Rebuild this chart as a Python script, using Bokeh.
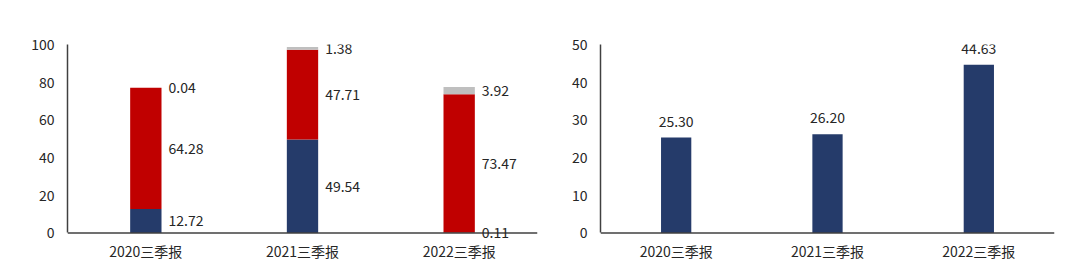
from bokeh.plotting import figure
from bokeh.layouts import row
from bokeh.models import ColumnDataSource, Range1d, FactorRange, LabelSet, Span
from bokeh.transform import dodge
from bokeh.embed import file_html
from bokeh.resources import INLINE
from bokeh.core.properties import value

categories = ["2020三季报", "2021三季报", "2022三季报"]
blue_vals = [12.72, 49.54, 0.11]
red_vals = [64.28, 47.71, 73.47]
gray_vals = [0.04, 1.38, 3.92]
right_vals = [25.30, 26.20, 44.63]
left_ticks = [0, 20, 40, 60, 80, 100]
right_ticks = [0, 10, 20, 30, 40, 50]

BLUE = "#253B6A"
RED = "#C00000"
GRAY = "#BFBFBF"
TXT = "#262626"
AX = "#404040"
FONT = "Noto Sans CJK SC"
FS = "14px"


def style(p, ticks, top):
    p.xgrid.visible = False
    p.ygrid.visible = False
    p.outline_line_color = None
    p.background_fill_color = "white"
    p.border_fill_color = "white"
    for ax in (p.xaxis, p.yaxis):
        ax.axis_line_color = AX
        ax.axis_line_width = 1.5
        ax.major_tick_line_color = None
        ax.minor_tick_line_color = None
        ax.major_tick_out = 0
        ax.major_tick_in = 0
        ax.minor_tick_out = 0
        ax.minor_tick_in = 0
        ax.major_label_text_font = FONT
        ax.major_label_text_font_size = FS
        ax.major_label_text_color = TXT
    p.yaxis.ticker = ticks
    p.yaxis.bounds = (0, top)
    p.yaxis.major_label_standoff = 13
    # x axis line drawn at value 0 (range extends slightly below 0 so labels at 0 are not clipped)
    p.xaxis.axis_line_color = None
    p.xaxis.major_label_standoff = 0
    p.add_layout(Span(location=0, dimension="width", line_color=AX, line_width=1.5))


# Left stacked chart
src = ColumnDataSource(dict(cat=categories, blue=blue_vals, red=red_vals, gray=gray_vals))
p1 = figure(x_range=FactorRange(*categories, range_padding=0), y_range=Range1d(-4, 100),
            width=540, height=271, output_backend="svg", toolbar_location=None,
            min_border_left=67, min_border_right=3, min_border_top=44, min_border_bottom=31)
p1.vbar_stack(["blue", "red", "gray"], x="cat", width=0.2, color=[BLUE, RED, GRAY],
              source=src, line_color=None)
style(p1, left_ticks, 100)

lab_y = []
lab_t = []
lab_x = []
for c, b, r, g in zip(categories, blue_vals, red_vals, gray_vals):
    lab_x += [c, c, c]
    lab_y += [b / 2, b + r / 2, b + r + g / 2]
    lab_t += [f"{b:.2f}", f"{r:.2f}", f"{g:.2f}"]
lsrc = ColumnDataSource(dict(x=lab_x, y=lab_y, t=lab_t))
p1.add_layout(LabelSet(x=dodge("x", 0.1, range=p1.x_range), y="y", text="t", source=lsrc,
                       x_offset=7, text_baseline="middle", text_align="left", level="overlay",
                       text_font=value(FONT), text_font_size=value(FS), text_color=value(TXT)))

# Right chart
rsrc = ColumnDataSource(dict(cat=categories, v=right_vals, t=[f"{v:.2f}" for v in right_vals]))
p2 = figure(x_range=FactorRange(*categories, range_padding=0), y_range=Range1d(-2, 50),
            width=540, height=271, output_backend="svg", toolbar_location=None,
            min_border_left=60, min_border_right=26, min_border_top=44, min_border_bottom=31)
p2.vbar(x="cat", top="v", bottom=0, width=0.2, color=BLUE, source=rsrc, line_color=None)
style(p2, right_ticks, 50)
p2.add_layout(LabelSet(x="cat", y="v", text="t", source=rsrc, y_offset=11, text_baseline="bottom",
                       text_align="center", level="overlay",
                       text_font=value(FONT), text_font_size=value(FS), text_color=value(TXT)))

layout = row(p1, p2)
open("out.html", "w").write(file_html(layout, INLINE))
